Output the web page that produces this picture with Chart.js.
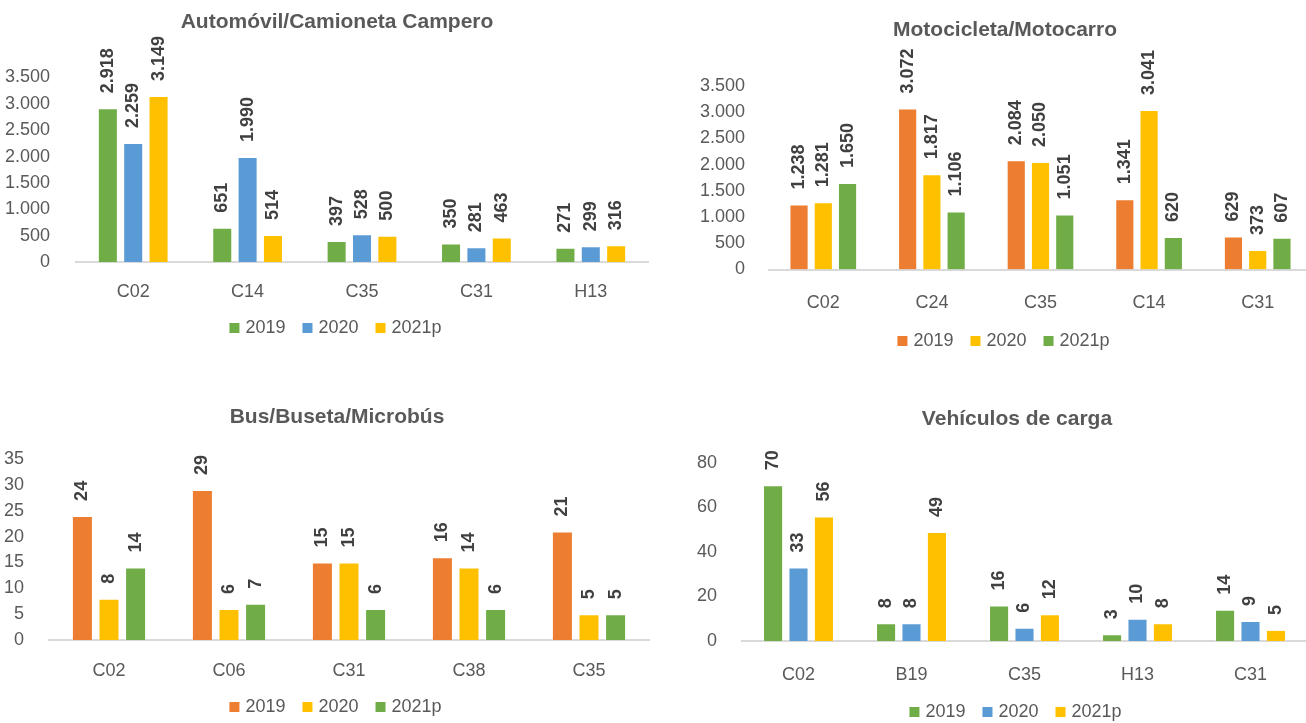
<!DOCTYPE html>
<html lang="es">
<head>
<meta charset="utf-8">
<title>Vehículos por actividad</title>
<script src="https://cdn.jsdelivr.net/npm/chart.js@4.4.1/dist/chart.umd.min.js"></script>
<style>
  html, body { margin: 0; padding: 0; background: #fff; overflow: hidden; width: 1306px; height: 723px; }
  canvas { position: absolute; }
</style>
</head>
<body>
<canvas id="autos" width="674" height="347" style="left:0;top:0"></canvas>
<canvas id="motos" width="630" height="360" style="left:690px;top:0"></canvas>
<canvas id="buses" width="674" height="346" style="left:0;top:380px"></canvas>
<canvas id="carga" width="654" height="351" style="left:690px;top:380px"></canvas>
<script>
// datos
const seriesLabels = ['2019', '2020', '2021p'];

const autoCats = ['C02', 'C14', 'C35', 'C31', 'H13'];
const auto2019 = [2918, 651, 397, 350, 271];
const auto2020 = [2259, 1990, 528, 281, 299];
const auto2021 = [3149, 514, 500, 463, 316];

const motoCats = ['C02', 'C24', 'C35', 'C14', 'C31'];
const moto2019 = [1238, 3072, 2084, 1341, 629];
const moto2020 = [1281, 1817, 2050, 3041, 373];
const moto2021 = [1650, 1106, 1051, 620, 607];

const busCats = ['C02', 'C06', 'C31', 'C38', 'C35'];
const bus2019 = [24, 29, 15, 16, 21];
const bus2020 = [8, 6, 15, 14, 5];
const bus2021 = [14, 7, 6, 6, 5];

const cargaCats = ['C02', 'B19', 'C35', 'H13', 'C31'];
const carga2019 = [70, 8, 16, 3, 14];
const carga2020 = [33, 8, 6, 10, 9];
const carga2021 = [56, 49, 12, 8, 5];

const GREEN = '#70AD47', BLUE = '#5B9BD5', GOLD = '#FFC000', ORANGE = '#ED7D31';
const FONT = '"Liberation Sans", Arial, sans-serif';

// separador de miles con punto
function fmt(v) {
  return String(v).replace(/\B(?=(\d{3})+(?!\d))/g, '.');
}

// etiquetas verticales encima de cada barra
const barLabels = {
  id: 'barLabels',
  afterDatasetsDraw(chart) {
    const ctx = chart.ctx;
    ctx.save();
    ctx.font = 'bold 18px ' + FONT;
    ctx.fillStyle = '#404040';
    ctx.textAlign = 'left';
    ctx.textBaseline = 'middle';
    chart.data.datasets.forEach((ds, i) => {
      chart.getDatasetMeta(i).data.forEach((bar, j) => {
        ctx.save();
        ctx.translate(bar.x, bar.y - 15);
        ctx.rotate(-Math.PI / 2);
        ctx.fillText(fmt(ds.data[j]), 0, 0);
        ctx.restore();
      });
    });
    ctx.restore();
  }
};

function makeChart(id, title, cats, values, colors, o) {
  return new Chart(document.getElementById(id), {
    type: 'bar',
    data: {
      labels: cats,
      datasets: values.map((vals, i) => ({
        label: seriesLabels[i],
        data: vals,
        backgroundColor: colors[i],
        borderColor: 'rgba(255,255,255,0.45)',
        borderWidth: 1,
        categoryPercentage: o.catPct,
        barPercentage: 0.79
      }))
    },
    options: {
      responsive: false,
      animation: false,
      layout: { padding: { left: o.pad, right: o.pad, top: 0, bottom: 0 } },
      plugins: {
        title: {
          display: true,
          text: title,
          color: '#595959',
          font: { family: FONT, size: 21, weight: 'bold' },
          padding: { top: o.titleTop, bottom: o.titleBottom }
        },
        legend: {
          position: 'bottom',
          labels: {
            color: '#595959',
            font: { family: FONT, size: 18 },
            boxWidth: 4,
            boxHeight: 4,
            padding: 20,
            generateLabels: (chart) => Chart.defaults.plugins.legend.labels.generateLabels(chart)
              .map(l => Object.assign(l, { lineWidth: 6, strokeStyle: l.fillStyle }))
          }
        },
        tooltip: { enabled: false }
      },
      scales: {
        x: {
          grid: { display: false },
          border: { color: '#D9D9D9', width: 2 },
          ticks: { color: '#595959', font: { family: FONT, size: 18 }, padding: o.xPad },
          afterFit: (s) => { s.height = o.xHeight; }
        },
        y: {
          min: 0,
          max: o.yMax,
          grid: { display: false },
          border: { display: false },
          ticks: {
            stepSize: o.yStep,
            color: '#595959',
            font: { family: FONT, size: 18 },
            padding: o.yPad,
            callback: (v) => fmt(v)
          },
          afterFit: (s) => {
            s.width = o.yWidth;
            // las etiquetas sobresalen del eje, no recortarlas
            s._computeLabelArea = () => null;
          }
        }
      }
    },
    plugins: [barLabels]
  });
}

makeChart('autos', 'Automóvil/Camioneta Campero', autoCats,
  [auto2019, auto2020, auto2021], [GREEN, BLUE, GOLD],
  { yMax: 3500, yStep: 500, pad: 26, yWidth: 50, yPad: 18, xHeight: 37, xPad: 11,
    titleTop: 9.5, titleBottom: 42.8, catPct: 0.665 });

makeChart('motos', 'Motocicleta/Motocarro', motoCats,
  [moto2019, moto2020, moto2021], [ORANGE, GOLD, GREEN],
  { yMax: 3500, yStep: 500, pad: 8, yWidth: 71, yPad: 16, xHeight: 42.5, xPad: 15,
    titleTop: 17.5, titleBottom: 43.3, catPct: 0.67 });

makeChart('buses', 'Bus/Buseta/Microbús', busCats,
  [bus2019, bus2020, bus2021], [ORANGE, GOLD, GREEN],
  { yMax: 35, yStep: 5, pad: 25, yWidth: 24, yPad: 17, xHeight: 38, xPad: 12,
    titleTop: 24.4, titleBottom: 29.4, catPct: 0.665 });

makeChart('carga', 'Vehículos de carga', cargaCats,
  [carga2019, carga2020, carga2021], [GREEN, BLUE, GOLD],
  { yMax: 80, yStep: 20, pad: 37, yWidth: 15, yPad: 17, xHeight: 42, xPad: 15,
    titleTop: 26.4, titleBottom: 31.4, catPct: 0.675 });
</script>
</body>
</html>
